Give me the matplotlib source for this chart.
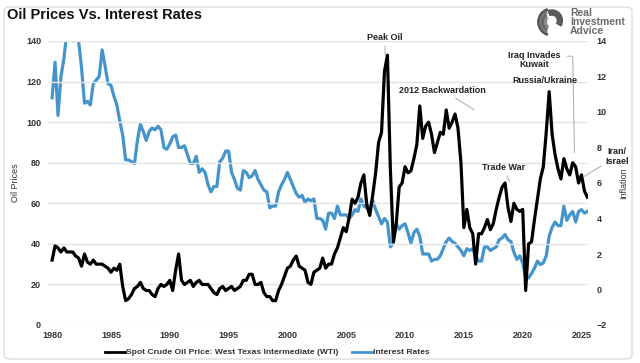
import numpy as np
import matplotlib
matplotlib.use('Agg')
import matplotlib.pyplot as plt
from matplotlib.patches import FancyBboxPatch, Wedge

plt.rcParams['font.family'] = ['Liberation Sans', 'DejaVu Sans']

# quarterly values, 1980 Q1 .. 2025 Q3
oil_price = [
    32, 39, 38, 36,   38, 36, 36, 36,   34, 33, 29, 35,   31, 30, 32, 30,
    30, 30, 29, 28,   26, 28, 27, 30,   19, 12, 13, 15,   18, 19, 21, 18,
    17, 17, 15, 14,   18, 20, 19, 20,   22, 17, 27, 35,   22, 20, 21, 22,
    19, 21, 22, 20,   20, 20, 18, 16,   15, 18, 19, 17,   18, 19, 17, 18,
    19, 22, 22, 25,   25, 20, 20, 21,   16, 14, 14, 12,   12, 17, 20, 24,
    28, 29, 32, 34,   29, 28, 27, 21,   20, 26, 27, 28,   33, 28, 30, 30,
    35, 38, 43, 48,   46, 53, 62, 60,   63, 70, 74, 59,   54, 64, 75, 90,
    95, 125, 133, 77, 41, 50, 68, 70,   78, 75, 76, 82,   89, 108, 92, 98,
    100, 94, 85, 90,  95, 94, 106, 97,  100, 104, 97, 80, 48, 57, 48, 45,
    30, 45, 45, 48,   52, 47, 50, 57,   63, 68, 70, 58,   51, 60, 57, 56,
    57, 17, 40, 41,   52, 62, 72, 78,   95, 115, 94, 84, 77, 72, 82, 77,
    74, 80, 78, 70,   74, 66, 63,
]

interest_rate = [
    10.8, 12.8, 9.8, 12.0,  13.0, 14.5, 15.3, 14.0,  14.3, 14.0, 12.5, 10.5,
    10.6, 10.4, 11.6, 11.8,  12.0, 13.5, 12.6, 11.6,  11.5, 10.9, 10.4, 9.5,
    8.7, 7.3, 7.3, 7.2,      7.1, 8.4, 9.3, 8.9,      8.4, 8.9, 9.1, 9.0,
    9.2, 9.0, 8.0, 7.9,      8.2, 8.6, 8.7, 8.0,      8.0, 8.1, 7.6, 7.1,
    7.1, 7.5, 6.6, 6.8,      6.6, 5.9, 5.5, 5.8,      5.8, 7.2, 7.4, 7.8,
    7.8, 6.6, 6.2, 5.7,      5.6, 6.7, 6.6, 6.3,      6.4, 6.7, 6.2, 5.9,
    5.6, 5.5, 4.6, 4.7,      4.7, 5.5, 5.9, 6.2,      6.6, 6.2, 5.8, 5.4,
    5.2, 5.3, 4.9, 5.1,      5.0, 5.1, 4.0, 4.0,      3.9, 3.4, 4.3, 4.3,
    4.0, 4.7, 4.2, 4.2,      4.2, 4.0, 4.2, 4.5,      4.4, 5.1, 4.7, 4.6,
    4.8, 5.0, 4.5, 4.1,      3.7, 4.0, 3.8, 2.4,      2.6, 3.7, 3.4, 3.6,
    3.7, 3.2, 2.6, 3.2,      3.4, 3.0, 2.0, 2.0,      2.0, 1.6, 1.7, 1.7,
    1.9, 2.3, 2.7, 2.9,      2.7, 2.6, 2.4, 2.2,      1.9, 2.3, 2.2, 2.3,
    1.9, 1.6, 1.6, 2.4,      2.4, 2.2, 2.3, 2.4,      2.8, 2.9, 3.1, 2.8,
    2.7, 2.1, 1.7, 1.9,      1.5, 0.7, 0.65, 0.9,     1.2, 1.6, 1.4, 1.5,
    1.9, 3.0, 3.5, 3.8,      3.6, 3.6, 4.7, 3.9,      4.2, 4.4, 3.8, 4.4,
    4.5, 4.3, 4.4,
]

year_ticks = [1980, 1985, 1990, 1995, 2000, 2005, 2010, 2015, 2020, 2025]
left_ticks = [0, 20, 40, 60, 80, 100, 120, 140]
right_ticks = [-2, 0, 2, 4, 6, 8, 10, 12, 14]

t_oil = 1980 + np.arange(len(oil_price)) / 4
t_rate = 1980 + np.arange(len(interest_rate)) / 4

W, H = 640, 363
fig = plt.figure(figsize=(6.4, 3.63), dpi=100)
fig.patches.append(FancyBboxPatch((4 / W, 4 / H), 628 / W, 352 / H,
                                  boxstyle='round,pad=0,rounding_size=0.01',
                                  transform=fig.transFigure, fill=False,
                                  edgecolor='#dddddd', lw=1))

ax = fig.add_axes([48 / W, (H - 325) / H, (588 - 48) / W, (325 - 41) / H])
ax2 = ax.twinx()

ax.set_xlim(1979.65, 2025.55)
ax.set_ylim(0, 140)
ax2.set_ylim(-2, 14)

ax.set_yticks(left_ticks)
ax2.set_yticks(right_ticks)
ax.set_xticks(year_ticks)
ax.grid(axis='y', color='#e3e3e3', lw=1)
ax.set_axisbelow(True)

for a in (ax, ax2):
    for s in a.spines.values():
        s.set_visible(False)
    a.tick_params(length=0, labelsize=6.5, labelcolor='#333333')
for lab in ax.get_yticklabels() + ax2.get_yticklabels() + ax.get_xticklabels():
    lab.set_fontweight('bold')
ax.tick_params(axis='y', pad=5)
ax2.tick_params(axis='y', pad=6)
ax.tick_params(axis='x', pad=4)

ax.set_ylabel('Oil Prices', fontsize=6.5, color='#333333', labelpad=4)
ax2.set_ylabel('Inflation', fontsize=6.5, color='#333333', labelpad=9)

# blue on the twin axis, black oil line drawn above it
ax2.plot(t_rate, interest_rate, color='#4595cc', lw=2.3, solid_joinstyle='round')
ax.set_zorder(ax2.get_zorder() + 1)
ax.patch.set_visible(False)
ax.plot(t_oil, oil_price, color='black', lw=2.3, solid_joinstyle='round')

fig.text(7 / W, 1 - 15 / H, 'Oil Prices Vs. Interest Rates', fontsize=10.5,
         fontweight='bold', va='center', ha='left', color='#111111')

# logo
fig.text(570 / W, 1 - 22 / H, 'Real\nInvestment\nAdvice', fontsize=7.5,
         fontweight='bold', color='#6a6a6a', va='center', ha='left',
         linespacing=0.88)
lax = fig.add_axes([535 / W, 1 - 36 / H, 28 / W, 28 / H])
lax.set_xlim(0, 1)
lax.set_ylim(0, 1)
lax.axis('off')
for i, (r, a1, a2) in enumerate([(0.5, 110, 250), (0.42, 120, 240),
                                 (0.34, 130, 235), (0.26, 140, 230)]):
    lax.add_patch(Wedge((0.6, 0.5), r, a1, a2, width=0.06,
                        color=['#555555', '#777777', '#666666', '#888888'][i]))
lax.add_patch(Wedge((0.6, 0.55), 0.38, -30, 110, width=0.18, color='#5a5a5a'))

ann = dict(fontsize=6.5, fontweight='bold', color='#222222', ha='center',
           va='center')
arrow = dict(arrowstyle='-', color='#aaaaaa', lw=0.7, shrinkA=1, shrinkB=0)
ax.annotate('Peak Oil', xy=(2008.3, 133), xytext=(2008.3, 141.8),
            annotation_clip=False, arrowprops=arrow, **ann)
ax.annotate('2012 Backwardation', xy=(2015.9, 106), xytext=(2013.2, 115.8),
            annotation_clip=False, arrowprops=arrow, **ann)
ax.annotate('Trade War', xy=(2018.9, 70.5), xytext=(2018.35, 77.8),
            annotation_clip=False, arrowprops=arrow, **ann)
ax.text(2021.0, 130.5, 'Iraq Invades\nKuwait', linespacing=1.05, **ann)
ax.text(2021.9, 120.7, 'Russia/Ukraine', **ann)
ax.plot([2023.8, 2024.25, 2024.4], [132.5, 132.5, 85], color='#aaaaaa', lw=0.7,
        clip_on=False)
ax.annotate('Iran/\nIsrael', xy=(2025.15, 73), xytext=(2028.0, 83),
            annotation_clip=False, linespacing=1.05, arrowprops=arrow, **ann)

# legend below the plot
fig.lines.append(plt.Line2D([105 / W, 125 / W], [1 - 352 / H] * 2,
                            color='black', lw=2, transform=fig.transFigure))
fig.text(126 / W, 1 - 352 / H, 'Spot Crude Oil Price: West Texas Intermediate (WTI)',
         fontsize=6.1, fontweight='bold', color='#333333', va='center')
fig.lines.append(plt.Line2D([352 / W, 372 / W], [1 - 352 / H] * 2,
                            color='#4595cc', lw=2, transform=fig.transFigure))
fig.text(373 / W, 1 - 352 / H, 'Interest Rates', fontsize=6.1,
         fontweight='bold', color='#333333', va='center')

fig.savefig('out.png', dpi=100)
